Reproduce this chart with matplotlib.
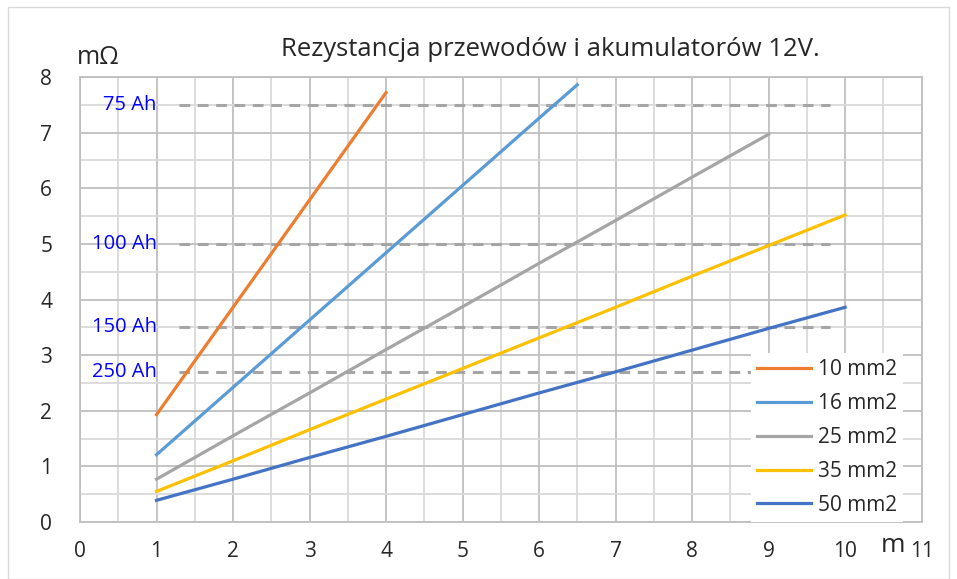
import numpy as np
import matplotlib.pyplot as plt
from matplotlib.patches import Rectangle

plt.rcParams['font.family'] = ['Open Sans', 'DejaVu Sans']

# dane
dlugosc = [1, 2, 3, 4, 5, 6, 7, 8, 9, 10]
r_10 = [1.93, 3.86, 5.79, 7.72]
x_16 = [1, 2, 3, 4, 5, 6, 6.5]
r_16 = [1.21, 2.42, 3.63, 4.84, 6.05, 7.26, 7.86]
r_25 = [0.77, 1.55, 2.32, 3.10, 3.87, 4.65, 5.42, 6.20, 6.97]
r_35 = [0.55, 1.10, 1.66, 2.21, 2.76, 3.31, 3.86, 4.42, 4.97, 5.52]
r_50 = [0.39, 0.77, 1.16, 1.54, 1.93, 2.32, 2.70, 3.09, 3.48, 3.86]

akumulatory = ['75 Ah', '100 Ah', '150 Ah', '250 Ah']
r_akum = [7.5, 5.0, 3.5, 2.7]

fig = plt.figure(figsize=(9.57, 5.79), dpi=100)
ax = fig.add_axes([0.0836, 0.0984, 0.8794, 0.7686])

# ramka wykresu
fig.patches.append(Rectangle((0.008, 0.0), 0.984, 0.988, transform=fig.transFigure,
                             fill=False, edgecolor='#D9D9D9', lw=1))

ax.set_xlim(0, 11)
ax.set_ylim(0, 8)
ax.set_xticks(range(0, 12))
ax.set_yticks(range(0, 9))
ax.set_xticks(np.arange(0.5, 11, 1), minor=True)
ax.set_yticks(np.arange(0.5, 8, 1), minor=True)
ax.grid(which='major', color='#BFBFBF', lw=1.3)
ax.grid(which='minor', color='#D9D9D9', lw=1.3)
ax.set_axisbelow(True)
for s in ax.spines.values():
    s.set_color('#BFBFBF')
    s.set_linewidth(1.3)
ax.tick_params(which='both', length=0, labelsize=15, colors='#262626')
ax.tick_params(axis='x', pad=14)
ax.tick_params(axis='y', pad=20)

# linie akumulatorów
for nazwa, r in zip(akumulatory, r_akum):
    ax.plot([1.3, 9.8], [r, r], color='#A5A5A5', lw=2.2, ls=(0, (3.5, 2.5)), zorder=2)
    ax.text(1.0, r, nazwa, color='#0000FF', fontsize=14.5, ha='right', va='center', zorder=3)

ax.plot(dlugosc[:4], r_10, color='#ED7D31', lw=2.3, label='10 mm2', zorder=4)
ax.plot(x_16, r_16, color='#5B9BD5', lw=2.3, label='16 mm2', zorder=4)
ax.plot(dlugosc[:9], r_25, color='#A5A5A5', lw=2.3, label='25 mm2', zorder=4)
ax.plot(dlugosc, r_35, color='#FFC000', lw=2.3, label='35 mm2', zorder=4)
ax.plot(dlugosc, r_50, color='#4472C4', lw=2.3, label='50 mm2', zorder=4)

leg = ax.legend(loc='lower right', bbox_to_anchor=(0.978, 0.0), fontsize=15, frameon=True,
                fancybox=False, edgecolor='none', framealpha=1, handlelength=2.6,
                borderaxespad=0.0, labelspacing=0.62, handletextpad=0.3, borderpad=0.3)
leg.set_zorder(5)
for t in leg.get_texts():
    t.set_color('#262626')

fig.text(0.575, 0.915, 'Rezystancja przewodów i akumulatorów 12V.', fontsize=18.5,
         ha='center', va='center', color='#262626')
fig.text(0.103, 0.9, 'mΩ', fontsize=18, ha='center', va='center', color='#262626')
fig.text(0.933, 0.058, 'm', fontsize=19, ha='center', va='center', color='#262626')

fig.savefig('out.png', dpi=100)
